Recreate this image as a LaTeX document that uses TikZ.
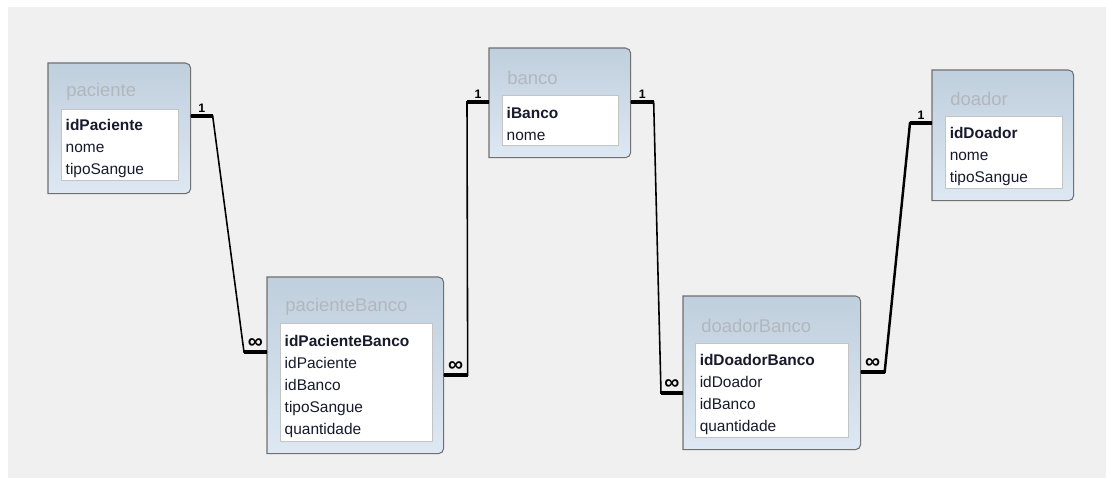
\documentclass[tikz,border=0pt]{standalone}
\usepackage{fontspec}
\setmainfont{Liberation Sans}
\usepackage{tikz}
\usetikzlibrary{calc}

\definecolor{fundo}{RGB}{240,240,240}
\definecolor{borda}{RGB}{112,112,112}
\definecolor{topo}{RGB}{192,207,221}
\definecolor{base}{RGB}{221,232,243}
\definecolor{titulo}{RGB}{178,183,190}
\definecolor{lista}{RGB}{196,196,196}
\definecolor{texto}{RGB}{25,25,45}

\begin{document}
\begin{tikzpicture}[x=0.02cm, y=-0.02cm,
    tabela/.style={anchor=north west, inner sep=0pt},
    caixa/.style={draw=borda, line width=0.6pt, top color=topo, bottom color=base},
    nome/.style={anchor=west, text=titulo, font=\fontsize{10.5}{12}\selectfont, inner sep=0pt},
    campos/.style={anchor=north west, draw=lista, fill=white, align=left, inner xsep=2.5pt, inner ysep=0pt, text=texto, font=\fontsize{8.8}{12.5}\selectfont, execute at begin node=\rule{0pt}{11pt}},
    fino/.style={line width=0.9pt},
    grosso/.style={line width=1.8pt},
    card/.style={font=\bfseries\fontsize{7}{7}\selectfont, inner sep=1pt},
    muitos/.style={font=\bfseries\fontsize{12}{12}\selectfont, inner sep=0pt}]
    %fundo
    \useasboundingbox (0,0) rectangle (1106,478);
    \fill[white] (0,0) rectangle (1106,478);
    \fill[fundo] (8,7) rectangle (1106,478);
    %paciente
    \node[tabela, minimum width=2.84cm, minimum height=2.6cm] (paciente) at (48,63) {};
    \path[caixa] (paciente.south west) -- (paciente.north west) [rounded corners=3pt] -- (paciente.north east) -- (paciente.south east) [sharp corners] -- cycle;
    \node[nome] (pacienteNome) at ($(paciente.north west)+(18,29)$) {paciente};
    \node[campos, text width=2.16cm, minimum height=1.42cm] (pacienteCampos) at ($(paciente.north west)+(13,46)$) {\textbf{idPaciente}\\nome\\tipoSangue};
    %banco
    \node[tabela, minimum width=2.82cm, minimum height=2.18cm] (banco) at (489,48) {};
    \path[caixa] (banco.south west) -- (banco.north west) [rounded corners=3pt] -- (banco.north east) -- (banco.south east) [sharp corners] -- cycle;
    \node[nome] (bancoNome) at ($(banco.north west)+(18,30)$) {banco};
    \node[campos, text width=2.14cm, minimum height=1.0cm] (bancoCampos) at ($(banco.north west)+(13,47)$) {\textbf{iBanco}\\nome};
    %doador
    \node[tabela, minimum width=2.82cm, minimum height=2.6cm] (doador) at (932,70) {};
    \path[caixa] (doador.south west) -- (doador.north west) [rounded corners=3pt] -- (doador.north east) -- (doador.south east) [sharp corners] -- cycle;
    \node[nome] (doadorNome) at ($(doador.north west)+(18,29)$) {doador};
    \node[campos, text width=2.16cm, minimum height=1.44cm] (doadorCampos) at ($(doador.north west)+(13,46)$) {\textbf{idDoador}\\nome\\tipoSangue};
    %pacienteBanco
    \node[tabela, minimum width=3.52cm, minimum height=3.52cm] (pacienteBanco) at (267,277) {};
    \path[caixa] (pacienteBanco.south west) -- (pacienteBanco.north west) [rounded corners=3pt] -- (pacienteBanco.north east) -- (pacienteBanco.south east) [sharp corners] -- cycle;
    \node[nome] (pacienteBancoNome) at ($(pacienteBanco.north west)+(18,30)$) {pacienteBanco};
    \node[campos, text width=2.86cm, minimum height=2.36cm] (pacienteBancoCampos) at ($(pacienteBanco.north west)+(13,46)$) {\textbf{idPacienteBanco}\\idPaciente\\idBanco\\tipoSangue\\quantidade};
    %doadorBanco
    \node[tabela, minimum width=3.54cm, minimum height=3.06cm] (doadorBanco) at (683,296) {};
    \path[caixa] (doadorBanco.south west) -- (doadorBanco.north west) [rounded corners=3pt] -- (doadorBanco.north east) -- (doadorBanco.south east) [sharp corners] -- cycle;
    \node[nome] (doadorBancoNome) at ($(doadorBanco.north west)+(18,30)$) {doadorBanco};
    \node[campos, text width=2.88cm, minimum height=1.88cm] (doadorBancoCampos) at ($(doadorBanco.north west)+(12,47)$) {\textbf{idDoadorBanco}\\idDoador\\idBanco\\quantidade};
    %ligacao paciente - pacienteBanco
    \coordinate (pc1) at ($(paciente.north east)+(0,53)$);
    \coordinate (pc2) at ($(pacienteBanco.north west)+(0,75)$);
    \draw[fino] (pc1) -- ++(22,0) -- ($(pc2)+(-23,0)$) -- (pc2);
    \draw[grosso] (pc1) -- ++(22,0) node[midway, above, card] {1};
    \draw[grosso] (pc2) -- ++(-23,0) node[midway, above=1pt, muitos] {∞};
    %ligacao pacienteBanco - banco
    \coordinate (pb1) at ($(pacienteBanco.north east)+(0,98)$);
    \coordinate (bc1) at ($(banco.north west)+(0,54)$);
    \draw[fino] (pb1) -- ++(24,0) -- ($(bc1)+(-22,0)$) -- (bc1);
    \draw[grosso] (pb1) -- ++(24,0) node[midway, above=1pt, muitos] {∞};
    \draw[grosso] (bc1) -- ++(-22,0) node[midway, above, card] {1};
    %ligacao banco - doadorBanco
    \coordinate (bc2) at ($(banco.north east)+(0,54)$);
    \coordinate (db1) at ($(doadorBanco.north west)+(0,97)$);
    \draw[fino] (bc2) -- ++(23,0) -- ($(db1)+(-22,0)$) -- (db1);
    \draw[grosso] (bc2) -- ++(23,0) node[midway, above, card] {1};
    \draw[grosso] (db1) -- ++(-22,0) node[midway, above=1pt, muitos] {∞};
    %ligacao doadorBanco - doador
    \coordinate (db2) at ($(doadorBanco.north east)+(0,76)$);
    \coordinate (dd1) at ($(doador.north west)+(0,53)$);
    \draw[fino, line width=1.4pt] (db2) -- ++(24,0) -- ($(dd1)+(-22,0)$) -- (dd1);
    \draw[grosso] (db2) -- ++(24,0) node[midway, above=1pt, muitos] {∞};
    \draw[grosso] (dd1) -- ++(-22,0) node[midway, above, card] {1};
\end{tikzpicture}
\end{document}
